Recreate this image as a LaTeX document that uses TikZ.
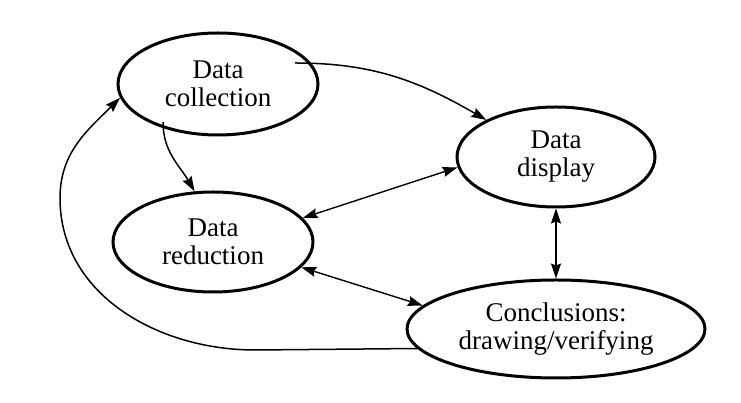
\documentclass[tikz,border=0pt]{standalone}
\usepackage{fontspec}
\setmainfont{Liberation Serif}
\usetikzlibrary{shapes.geometric,arrows.meta}
\tikzset{
  ell/.style={ellipse, draw, line width=3pt, inner sep=0pt, align=center,
    font=\fontsize{27}{28}\selectfont},
  tip/.tip={Stealth[length=15pt,width=10pt,inset=2pt]},
  conn/.style={line width=1.5pt, -tip},
  biconn/.style={line width=1.4pt, tip-tip}
}
\begin{document}
\begin{tikzpicture}[x=1pt,y=1pt]
\useasboundingbox (0,0) rectangle (741,403);
\fill[white] (0,0) rectangle (741,403);
\node[ell, minimum width=200pt, minimum height=102pt] (dc) at (218,319) {Data\\collection};
\node[ell, minimum width=198pt, minimum height=100pt] (dd) at (556,246) {Data\\display};
\node[ell, minimum width=200pt, minimum height=100pt] (dr) at (213,161) {Data\\reduction};
\node[ell, minimum width=298pt, minimum height=98pt] (co) at (556,74) {Conclusions:\\drawing/verifying};
\coordinate (s1) at (295,340);
\coordinate (s2) at (163,281);
\coordinate (b1) at (255,53);
\coordinate (b2) at (60,205);
\draw[conn] (s1) to[out=0,in=150] (dd.152);
\draw[conn] (s2) to[out=-90,in=120] (dr.110);
\draw[biconn] (dr.15) -- (dd.186);
\draw[biconn] (dr.-16) -- (co.170);
\draw[biconn] (dd.south) -- (co.north);
\draw[conn] (co.188) -- (b1) to[out=180,in=-90] (b2) to[out=90,in=225] (dc.188);
\end{tikzpicture}
\end{document}
